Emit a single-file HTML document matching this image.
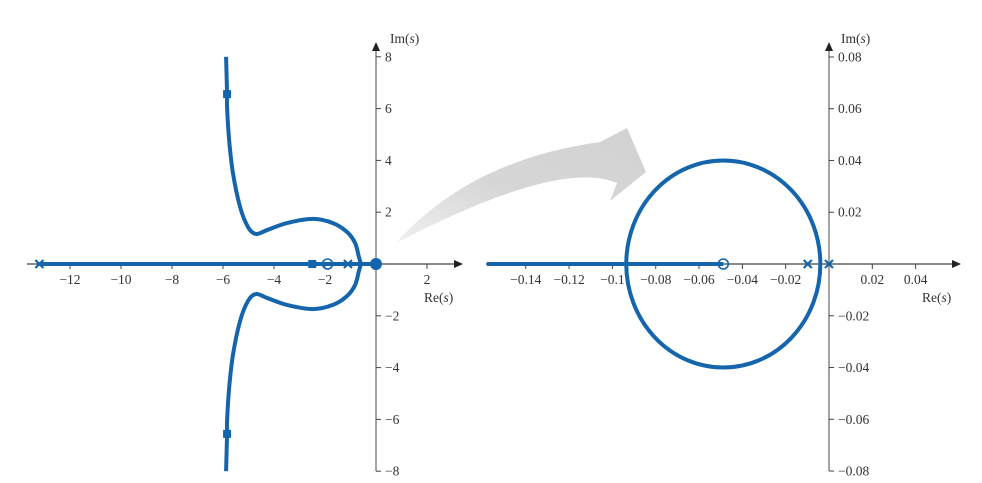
<!DOCTYPE html>
<html><head><meta charset="utf-8"><style>
html,body{margin:0;padding:0;background:#fff}
svg{display:block}
text{font-family:"Liberation Serif",serif;font-size:13.5px;fill:#333}
</style></head><body>
<svg id="svg" width="982" height="483">
<defs>
<linearGradient id="ag" x1="0" y1="1" x2="1" y2="0"><stop offset="0" stop-color="#f0f0f0"/><stop offset="0.45" stop-color="#d6d6d6"/><stop offset="1" stop-color="#d2d2d2"/></linearGradient>
</defs>
<path d="M396,243 Q470,160 600,142 L627,128 L646,172 L610,201 L617,183 Q560,158 396,243 Z" fill="url(#ag)"/>
<g id="left"></g>
<g id="right"></g>
</svg>
<script>
// Left plot data
const leftXTicks = [-12,-10,-8,-6,-4,-2,2];
const leftYTicks = [8,6,4,2,-2,-4,-6,-8];
const leftBranchX = [-5.88,-5.84,-5.84,-5.76,-5.61,-5.33,-5.02,-4.71,-4.27,-3.49,-2.47,-1.69,-1.14,-0.82,-0.67,-0.59];
const leftBranchY = [8.0,6.56,6.06,4.79,3.51,2.20,1.43,1.16,1.31,1.58,1.74,1.58,1.24,0.81,0.27,0];
const leftRealSeg = [-13.2,0];
const leftPoles = [-13.2,-1.1];
const leftZeros = [-1.9];
const leftSquares = [[-2.5,0],[-5.84,6.56],[-5.84,-6.56]];
const leftDots = [0];
// Right plot data
const rightXTicks = [-0.14,-0.12,-0.1,-0.08,-0.06,-0.04,-0.02,0.02,0.04];
const rightXLabels = ["\u22120.14","\u22120.12","\u22120.1","\u22120.08","\u22120.06","\u22120.04","\u22120.02","0.02","0.04"];
const rightYTicks = [0.08,0.06,0.04,0.02,-0.02,-0.04,-0.06,-0.08];
const rightYLabels = ["0.08","0.06","0.04","0.02","\u22120.02","\u22120.04","\u22120.06","\u22120.08"];
const rightCircle = [-0.0488,0.0448,0.04]; // centre, x-radius, y-radius
const rightRealSeg = [-0.158,-0.0488];
const rightPoles = [-0.0098,0];
const rightZeros = [-0.0488];

const NS="http://www.w3.org/2000/svg";
const BLUE="#1565ad";
function mk(p,t,a){const e=document.createElementNS(NS,t);for(const k in a)e.setAttribute(k,a[k]);p.appendChild(e);return e;}
function smooth(P){let d='M'+P[0][0]+','+P[0][1];
  for(let i=0;i<P.length-1;i++){const p0=P[Math.max(0,i-1)],p1=P[i],p2=P[i+1],p3=P[Math.min(P.length-1,i+2)];
    const c1=[p1[0]+(p2[0]-p0[0])/6,p1[1]+(p2[1]-p0[1])/6],c2=[p2[0]-(p3[0]-p1[0])/6,p2[1]-(p3[1]-p1[1])/6];
    d+=`C${c1[0]},${c1[1]} ${c2[0]},${c2[1]} ${p2[0]},${p2[1]}`;}
  return d;}
function axes(g,sx,sy,ox,oy,xL,xR,yT,yB,xt,xl,yt,yl){
  const ax=mk(g,'line',{x1:xL,y1:oy,x2:xR,y2:oy,stroke:'#444','stroke-width':1.2});
  
  mk(g,'path',{d:`M${xR+8},${oy} L${xR-1},${oy-4} L${xR-1},${oy+4} Z`,fill:'#222'});
  const ay=mk(g,'line',{x1:ox,y1:yT,x2:ox,y2:yB,stroke:'#666','stroke-width':1.2});
  
  mk(g,'path',{d:`M${ox},${yT-8} L${ox-4},${yT+1} L${ox+4},${yT+1} Z`,fill:'#222'});
  xt.forEach((v,i)=>{const x=sx(v);mk(g,'line',{x1:x,y1:oy,x2:x,y2:oy+5,stroke:'#444'});
    const t=mk(g,'text',{x:x,y:oy+20,'text-anchor':'middle'});t.textContent=xl[i];
    });
  yt.forEach((v,i)=>{const y=sy(v);mk(g,'line',{x1:ox,y1:y,x2:ox+5,y2:y,stroke:'#444'});
    const t=mk(g,'text',{x:ox+9,y:y+4.5});t.textContent=yl[i];
    });
}
function cross(g,x,y){const p=mk(g,'path',{d:`M${x-4},${y-4}L${x+4},${y+4}M${x-4},${y+4}L${x+4},${y-4}`,stroke:BLUE,'stroke-width':2.2});
  }
function zero(g,x,y){const c=mk(g,'circle',{cx:x,cy:y,r:5,fill:'none',stroke:BLUE,'stroke-width':1.6});
  }
function lab(g,x,y,name,pre){const t=mk(g,'text',{x:x,y:y});t.innerHTML=pre+'(<tspan font-style="italic">s</tspan>)';
  }

// LEFT
(function(){
 const g=document.getElementById('left');
 const sx=v=>376+v*25.5, sy=v=>264-v*25.9;
 const fmt=v=>v<0?'\u2212'+(-v):''+v;
 axes(g,sx,sy,376,264,27,455,50,471,leftXTicks,leftXTicks.map(fmt),leftYTicks,leftYTicks.map(fmt));
 const r=mk(g,'line',{x1:sx(leftRealSeg[0]),y1:264,x2:sx(leftRealSeg[1]),y2:264,stroke:BLUE,'stroke-width':4});
 
 [1,-1].forEach(s=>{const P=leftBranchX.map((x,i)=>[sx(x),sy(s*leftBranchY[i])]);
   const p=mk(g,'path',{d:smooth(P),fill:'none',stroke:BLUE,'stroke-width':4,'stroke-linejoin':'round'});
   });
 leftPoles.forEach(v=>cross(g,sx(v),264));
 leftZeros.forEach(v=>zero(g,sx(v),264));
 leftSquares.forEach(q=>{const e=mk(g,'rect',{x:sx(q[0])-4,y:sy(q[1])-4,width:8,height:8,fill:BLUE});
   });
 leftDots.forEach(v=>{const c=mk(g,'circle',{cx:sx(v),cy:264,r:6,fill:BLUE});
   });
 lab(g,390,43,'y-axis-title','Im');lab(g,424,302,'x-axis-title','Re');
})();
// RIGHT
(function(){
 const g=document.getElementById('right');
 const sx=v=>829+v*2166, sy=v=>264-v*2588;
 axes(g,sx,sy,829,264,486,953,50,471,rightXTicks,rightXLabels,rightYTicks,rightYLabels);
 const r=mk(g,'line',{x1:sx(rightRealSeg[0]),y1:264,x2:sx(rightRealSeg[1]),y2:264,stroke:BLUE,'stroke-width':4});
 
 const e=mk(g,'ellipse',{cx:sx(rightCircle[0]),cy:264,rx:rightCircle[1]*2166,ry:rightCircle[2]*2588,fill:'none',stroke:BLUE,'stroke-width':4});
 
 rightPoles.forEach(v=>cross(g,sx(v),264));
 rightZeros.forEach(v=>zero(g,sx(v),264));
 lab(g,841,43,'y-axis-title','Im');lab(g,922,302,'x-axis-title','Re');
})();
</script>
</body></html>
